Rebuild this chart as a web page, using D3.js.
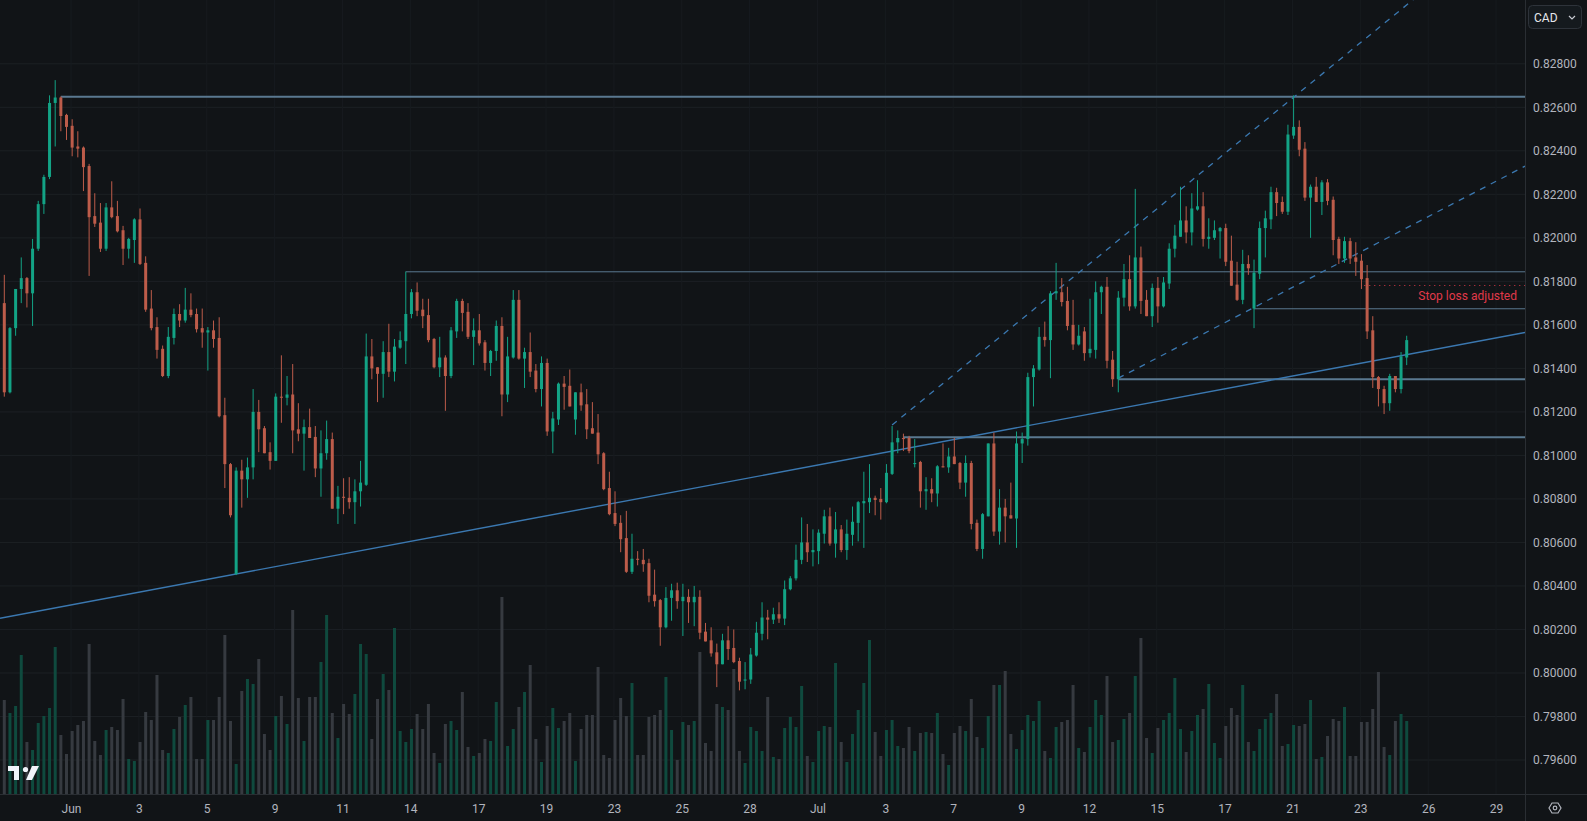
<!DOCTYPE html>
<html>
<head>
<meta charset="utf-8">
<script src="https://cdn.jsdelivr.net/npm/d3@7"></script>
<style>
  html, body { margin: 0; padding: 0; background: #111417; overflow: hidden; }
  svg text { font-family: "Roboto", "Noto Sans", sans-serif; }
</style>
</head>
<body>
<div id="chart"></div>
<script>
// 4h candles, prices in 1e-5 units
const opens = [81700,81290,81585,81765,81815,81745,81950,82155,82280,82620,
82645,82565,82515,82420,82415,82330,82100,82070,81950,82140,
82100,82035,81950,81990,82085,81885,81675,81590,81490,81365,
81540,81650,81620,81670,81650,81585,81565,81575,81540,81185,
80960,80455,80930,80890,80945,81200,81125,81015,80975,81270,
81265,81280,81120,81100,81130,81085,80940,81010,81075,80755,
80810,80805,80785,80835,80865,81455,81405,81375,81475,81385,
81495,81525,81650,81750,81670,81645,81535,81405,81450,81365,
81570,81710,81660,81545,81575,81520,81425,81480,81595,81280,
81450,81715,81445,81475,81390,81305,81425,81110,81165,81330,
81320,81165,81290,81235,81125,81105,81010,80850,80735,80690,
80620,80465,80525,80520,80505,80360,80335,80210,80345,80380,
80330,80350,80325,80350,80190,80150,80095,80040,80150,80115,
80055,79965,79970,80080,80180,80255,80245,80270,80250,80385,
80435,80520,80600,80555,80560,80640,80720,80595,80660,80565,
80635,80690,80780,80785,80805,80800,80785,80915,81060,81080,
81080,80960,80970,80835,80845,80825,80950,80945,80995,80965,
80875,80965,80690,80570,80720,81055,80650,80760,80725,80710,
81055,81075,81360,81395,81545,81530,81745,81750,81710,81600,
81510,81570,81470,81485,81750,81775,81440,81350,81725,81810,
81685,81910,81715,81640,81770,81685,81790,81950,82005,82080,
82025,82130,82145,81995,82000,82030,82045,81895,81785,81715,
81880,81675,81835,82045,82085,82210,82165,82120,82470,82510,
82410,82185,82235,82165,82255,82175,81995,81905,81985,81910,
81895,81815,81575,81360,81305,81240,81365,81305,81450];

const highs = [81830,81590,81765,81910,81820,81995,82170,82290,82655,82725,
82650,82570,82545,82490,82420,82340,82205,82160,82160,82260,
82170,82055,82000,82090,82135,81915,81760,81635,81505,81590,
81675,81695,81770,81745,81675,81675,81590,81620,81635,81265,
80965,80945,80980,80990,81305,81255,81135,81060,81285,81460,
81365,81420,81240,81165,81215,81135,81115,81160,81105,80860,
80895,80900,80890,80975,81560,81535,81405,81525,81605,81535,
81570,81845,81765,81795,81720,81720,81540,81545,81460,81590,
81720,81720,81700,81630,81650,81530,81485,81620,81635,81545,
81760,81760,81495,81565,81420,81455,81445,81200,81335,81365,
81395,81290,81330,81305,81245,81190,81015,80925,80835,80725,
80745,80640,80560,80570,80525,80475,80340,80395,80410,80415,
80410,80385,80400,80380,80230,80210,80135,80180,80215,80200,
80070,80050,80115,80235,80325,80290,80300,80325,80425,80445,
80590,80715,80685,80660,80660,80750,80760,80740,80680,80705,
80765,80790,80925,80960,80815,80850,80960,81135,81115,81100,
81090,81075,80975,80900,80895,80955,81055,81035,81080,80970,
81000,80975,80705,80735,81055,81105,80845,80800,80875,81110,
81105,81380,81415,81590,81615,81755,81885,81815,81775,81715,
81600,81590,81720,81800,81780,81820,81480,81755,81880,81920,
82225,81960,81760,81790,81820,81820,81975,82060,82235,82145,
82205,82265,82210,82090,82080,82050,82065,82010,81890,81945,
81920,81900,82075,82125,82235,82230,82190,82520,82655,82540,
82440,82245,82280,82265,82270,82190,82005,82005,82000,81980,
81925,81875,81640,81365,81320,81375,81360,81475,81550];

const lows = [81270,81285,81550,81700,81680,81595,81940,82110,82270,82420,
82490,82450,82375,82370,82215,81825,82050,81935,81940,82090,
82025,81875,81905,81885,81875,81660,81575,81445,81360,81355,
81510,81590,81610,81635,81565,81495,81390,81495,81175,80850,
80715,80450,80760,80805,80890,81015,81010,80935,80975,81150,
81230,81010,81065,80930,81080,80900,80810,80980,80755,80685,
80730,80755,80685,80765,80860,81350,81245,81265,81360,81340,
81490,81420,81630,81640,81585,81520,81400,81360,81205,81355,
81540,81570,81535,81415,81505,81390,81365,81435,81180,81245,
81445,81440,81310,81360,81290,81225,81090,81010,81140,81210,
81225,81095,81205,81075,81100,80960,80840,80725,80675,80555,
80460,80455,80495,80465,80325,80305,80125,80205,80240,80295,
80170,80230,80215,80155,80145,80075,79935,80040,80060,80045,
79920,79925,79950,80075,80150,80155,80225,80230,80220,80380,
80425,80500,80510,80490,80500,80595,80585,80530,80555,80520,
80585,80605,80575,80735,80725,80705,80780,80910,81010,81020,
81010,80945,80760,80750,80785,80765,80945,80920,80960,80845,
80810,80660,80560,80525,80720,80630,80590,80600,80710,80575,
80965,81045,81225,81390,81500,81355,81715,81685,81575,81485,
81505,81435,81450,81445,81650,81400,81315,81290,81685,81665,
81675,81650,81640,81590,81610,81680,81765,81910,82005,81975,
81965,82125,81960,81950,81990,81905,81870,81780,81710,81695,
81830,81585,81810,81910,82040,82100,82110,82105,82455,82375,
82170,82000,82165,82105,82150,81920,81880,81885,81880,81825,
81765,81535,81310,81225,81190,81205,81290,81285,81415];

const closes = [81290,81585,81765,81815,81745,81950,82155,82280,82620,82645,
82560,82510,82415,82410,82325,82095,82065,81950,82140,82095,
82030,81950,81995,82085,81880,81670,81585,81485,81365,81545,
81650,81620,81670,81645,81580,81565,81575,81535,81180,80960,
80725,80930,80890,80945,81200,81120,81010,80975,81270,81265,
81280,81115,81100,81130,81080,80940,81010,81075,80755,80810,
80805,80785,80835,80875,81455,81400,81375,81475,81385,81500,
81530,81650,81750,81665,81640,81530,81405,81450,81365,81575,
81710,81655,81545,81575,81515,81425,81480,81595,81280,81455,
81715,81445,81475,81385,81305,81425,81110,81170,81330,81315,
81225,81290,81230,81120,81100,81005,80845,80730,80685,80615,
80465,80525,80520,80500,80355,80330,80210,80345,80380,80330,
80350,80325,80350,80185,80145,80090,80040,80150,80110,80050,
79960,79970,80085,80185,80255,80245,80270,80250,80385,80435,
80520,80600,80555,80565,80645,80720,80595,80660,80565,80640,
80695,80785,80790,80805,80795,80785,80920,81060,81080,81075,
81020,80965,80835,80845,80825,80950,80945,80995,80960,80875,
80965,80685,80570,80730,81055,80650,80760,80720,80710,81055,
81075,81360,81400,81545,81530,81745,81755,81705,81595,81510,
81550,81470,81490,81750,81775,81435,81350,81725,81810,81685,
81910,81710,81640,81770,81685,81795,81950,82010,82080,82025,
82135,82145,81995,82005,82035,82045,81890,81780,81715,81880,
81860,81840,82045,82090,82210,82160,82120,82475,82510,82405,
82185,82235,82165,82255,82170,81990,81905,81985,81905,81890,
81810,81570,81360,81305,81240,81365,81305,81455,81530];

const volumes = [83,70,77,128,41,33,60,67,75,136,
48,29,52,58,62,139,42,28,53,56,
53,84,24,22,41,71,63,108,33,30,
54,66,78,86,24,24,63,63,86,148,
62,19,92,104,99,124,49,33,67,87,
59,173,85,42,86,86,121,168,70,45,
79,69,89,139,129,44,84,109,93,155,
52,41,54,69,54,79,30,20,59,62,
53,91,36,27,30,44,42,81,186,37,
54,76,91,118,44,21,57,75,55,62,
70,22,54,68,68,116,28,25,63,85,
67,100,28,28,66,68,73,106,53,23,
61,58,62,131,40,32,79,76,73,114,
32,20,56,52,32,86,26,24,55,66,
56,97,27,21,52,57,56,120,41,21,
49,73,100,143,51,27,53,63,37,35,
56,32,50,51,50,70,29,18,50,57,
52,84,46,35,67,98,98,112,49,34,
53,68,62,82,32,25,56,61,63,98,
35,31,56,83,68,107,41,43,64,70,
107,145,45,30,55,63,70,105,54,31,
52,68,74,99,40,25,57,75,68,98,
41,32,54,64,70,89,37,39,58,57,
59,83,24,26,47,64,62,76,27,27,
61,61,74,111,36,28,62,69,62];

// time axis labels and their bar positions
const dateLabels = ["Jun","3","5","9","11","14","17","19","23","25","28","Jul","3","7","9","12","15","17","21","23","26","29"];
const dateIndex = [11.8,23.8,35.8,47.8,59.8,71.8,83.8,95.8,107.8,119.8,131.8,143.8,155.8,167.8,179.8,191.8,203.8,215.8,227.8,239.8,251.8,263.8];
const priceTicks = [0.828,0.826,0.824,0.822,0.820,0.818,0.816,0.814,0.812,0.810,0.808,0.806,0.804,0.802,0.800,0.798,0.796];

// drawings: horizontal levels [start bar, price, width]
const levels = [[10,0.82648,2],[71,0.81844,1],[221,0.81674,1],[197,0.81350,2],[159,0.81083,2]];
// sloped lines [bar1, price1, bar2, price2, dashed]
const trendLines = [[41,0.80455,248,0.81463,false],[157,0.81140,227,0.82625,true],[197,0.81355,248,0.82046,true]];
const stopLoss = {bar: 240.5, price: 0.81781, label: "Stop loss adjusted"};

const W = 1587, H = 821, plotR = 1525, plotB = 794;
const up = "#13a385", down = "#bd5c4a";

const svg = d3.select("#chart").append("svg").attr("width", W).attr("height", H)
  .style("background", "#111417");

const x = d3.scaleLinear().domain([0, 248]).range([4.3, 1406.7]);
const y = d3.scaleLinear().domain([0.796, 0.828]).range([760, 63.8]);
const v = d3.scaleLinear().domain([0, 200]).range([783, 583]);

svg.append("defs").append("clipPath").attr("id", "plot")
  .append("rect").attr("width", plotR).attr("height", plotB);

const plot = svg.append("g").attr("clip-path", "url(#plot)");

// grid
plot.selectAll(".hg").data(priceTicks).enter().append("line")
  .attr("x1", 0).attr("x2", plotR).attr("y1", d => y(d)).attr("y2", d => y(d))
  .attr("stroke", "#1c2024").attr("stroke-width", 1);
plot.selectAll(".vg").data(dateIndex).enter().append("line")
  .attr("x1", d => x(d)).attr("x2", d => x(d)).attr("y1", 0).attr("y2", plotB)
  .attr("stroke", "#171b1f").attr("stroke-width", 1);

const bars = d3.range(closes.length).map(i => ({
  i, o: opens[i] / 1e5, h: highs[i] / 1e5, l: lows[i] / 1e5, c: closes[i] / 1e5, v: volumes[i]
}));

// volume
plot.selectAll(".vol").data(bars).enter().append("rect")
  .attr("x", d => x(d.i) - 1.5).attr("width", 3)
  .attr("y", d => v(d.v)).attr("height", d => plotB - v(d.v))
  .attr("fill", d => d.c >= d.o ? "#0f4a3e" : "#363a40");

// horizontal levels
plot.selectAll(".lvl").data(levels).enter().append("line")
  .attr("x1", d => x(d[0])).attr("x2", plotR)
  .attr("y1", d => y(d[1])).attr("y2", d => y(d[1]))
  .attr("stroke", "#5a7890").attr("stroke-width", d => d[2]);

// trend lines (extended)
trendLines.forEach(([b1, p1, b2, p2, dashed]) => {
  const x1 = x(b1), y1 = y(p1), x2 = x(b2), y2 = y(p2);
  const k = (y2 - y1) / (x2 - x1);
  const xs = dashed ? x1 : 0;
  plot.append("line")
    .attr("x1", xs).attr("y1", y1 + (xs - x1) * k)
    .attr("x2", plotR).attr("y2", y1 + (plotR - x1) * k)
    .attr("stroke", "#3b78b0").attr("stroke-width", dashed ? 1.3 : 1.4)
    .attr("stroke-dasharray", dashed ? "6,6" : null);
});

// stop loss marker
plot.append("line")
  .attr("x1", x(stopLoss.bar)).attr("x2", plotR)
  .attr("y1", y(stopLoss.price)).attr("y2", y(stopLoss.price))
  .attr("stroke", "#e0394a").attr("stroke-width", 1).attr("stroke-dasharray", "1,4");
plot.append("text")
  .attr("x", 1517).attr("y", y(stopLoss.price) + 15)
  .attr("text-anchor", "end").attr("fill", "#e0394a").attr("font-size", 12)
  .text(stopLoss.label);

// candles
const candles = plot.selectAll(".candle").data(bars).enter().append("g");
candles.append("line")
  .attr("x1", d => x(d.i)).attr("x2", d => x(d.i))
  .attr("y1", d => y(Math.max(d.h, d.o, d.c))).attr("y2", d => y(Math.min(d.l, d.o, d.c)))
  .attr("stroke", d => d.c >= d.o ? up : down).attr("stroke-width", 1);
candles.append("rect")
  .attr("x", d => x(d.i) - 1.5).attr("width", 3)
  .attr("y", d => y(Math.max(d.o, d.c)))
  .attr("height", d => Math.max(1, Math.abs(y(d.o) - y(d.c))))
  .attr("fill", d => d.c >= d.o ? up : down);

// panel borders
svg.append("line").attr("x1", plotR + 0.5).attr("x2", plotR + 0.5).attr("y1", 0).attr("y2", H)
  .attr("stroke", "#2a2e33");
svg.append("line").attr("x1", 0).attr("x2", W).attr("y1", plotB + 0.5).attr("y2", plotB + 0.5)
  .attr("stroke", "#2a2e33");

// price axis
const yAxis = svg.append("g").attr("transform", `translate(${plotR + 8},0)`)
  .call(d3.axisRight(y).tickValues(priceTicks).tickFormat(d3.format(".5f")).tickSize(0));
yAxis.select(".domain").remove();
yAxis.selectAll("text").attr("fill", "#b2b5be").attr("font-size", 12).attr("x", 0);

// time axis
const xAxis = svg.append("g").attr("transform", `translate(0,${plotB})`)
  .call(d3.axisBottom(x).tickValues(dateIndex).tickFormat((d, i) => dateLabels[i]).tickSize(0));
xAxis.select(".domain").remove();
xAxis.selectAll("text").attr("fill", "#b2b5be").attr("font-size", 12).attr("dy", "1.3em");
svg.append("rect").attr("x", plotR + 1).attr("y", plotB + 1).attr("width", W - plotR).attr("height", H - plotB)
  .attr("fill", "#111417");

// currency box
svg.append("rect").attr("x", 1528.5).attr("y", 5.5).attr("width", 53).attr("height", 23).attr("rx", 4)
  .attr("fill", "#151a1e").attr("stroke", "#2e333a");
svg.append("text").attr("x", 1534).attr("y", 21.5).attr("fill", "#e6e8ec").attr("font-size", 12).text("CAD");
svg.append("path").attr("d", "M1569,16 l3,3 l3,-3").attr("fill", "none").attr("stroke", "#c8cbd2").attr("stroke-width", 1.2);

// settings icon
svg.append("path").attr("d", "M1549,808 l3,-5 h6 l3,5 l-3,5 h-6 z").attr("fill", "none").attr("stroke", "#b2b5be").attr("stroke-width", 1.2);
svg.append("circle").attr("cx", 1555).attr("cy", 808).attr("r", 1.8).attr("fill", "none").attr("stroke", "#b2b5be").attr("stroke-width", 1.2);

// logo
const logo = svg.append("g").attr("fill", "#f0f3fa");
logo.append("path").attr("d", "M8,766 h11 v14 h-5 v-9 h-6 z");
logo.append("circle").attr("cx", 25.5).attr("cy", 769.5).attr("r", 2.6);
logo.append("path").attr("d", "M32,766 h7 l-7,14 h-6 z");
</script>
</body>
</html>
